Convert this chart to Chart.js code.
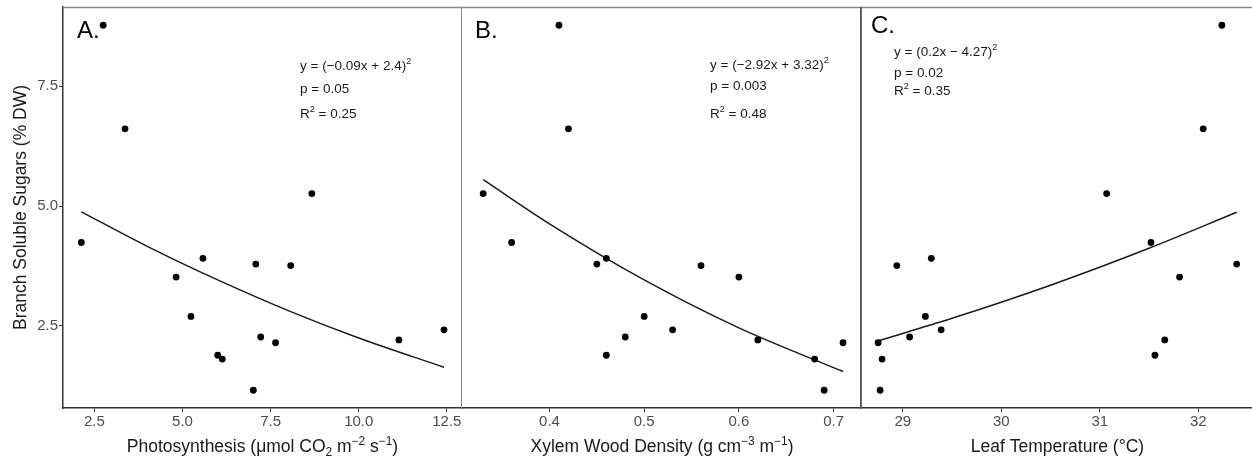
<!DOCTYPE html>
<html>
<head>
<meta charset="utf-8">
<script src="https://cdn.jsdelivr.net/npm/chart.js@4.4.1/dist/chart.umd.min.js"></script>
<style>
  body { margin: 0; background: #fff; width: 1252px; height: 457px; overflow: hidden; position: relative; }
  .box { position: absolute; top: 0; height: 457px; }
</style>
</head>
<body>
<div class="box" style="left:0;width:463px"><canvas id="chartA"></canvas></div>
<div class="box" style="left:462px;width:400px"><canvas id="chartB"></canvas></div>
<div class="box" style="left:860px;width:395px"><canvas id="chartC"></canvas></div>

<script>
// branch soluble sugars (% DW), same trees in each panel
const sugars = [8.77, 6.61, 5.26, 4.24, 3.91, 3.79, 3.76, 3.52, 2.70, 2.42, 2.27, 2.21, 2.15, 1.89, 1.81, 1.16];

// x values for each panel (same order as sugars)
const photosynthesis = [2.75, 3.37, 8.67, 2.13, 5.58, 7.08, 8.07, 4.82, 5.24, 12.42, 7.22, 11.14, 7.64, 6.00, 6.13, 7.01];
const woodDensity = [0.41, 0.42, 0.33, 0.36, 0.46, 0.45, 0.56, 0.60, 0.50, 0.53, 0.48, 0.62, 0.71, 0.46, 0.68, 0.69];
const leafTemp = [32.24, 32.05, 31.07, 31.52, 29.29, 32.39, 28.94, 31.81, 29.23, 29.39, 29.07, 31.66, 28.75, 31.56, 28.79, 28.77];

// fitted curves
const fitAx = [2.13, 4, 6, 8, 10, 12.42];
const fitAy = [4.88, 4.16, 3.46, 2.82, 2.25, 1.64];
const fitBx = [0.33, 0.4, 0.5, 0.6, 0.71];
const fitBy = [5.55, 4.63, 3.46, 2.46, 1.55];
const fitCx = [28.75, 29.5, 30.5, 31.5, 32.39];
const fitCy = [2.19, 2.66, 3.35, 4.12, 4.87];

// tick values
const sugarTicks = [2.5, 5, 7.5];
const ticksA = [2.5, 5, 7.5, 10, 12.5];
const ticksB = [0.4, 0.5, 0.6, 0.7];
const ticksC = [29, 30, 31, 32];

// text pieces: [text, shift]  shift 1 = superscript, -1 = subscript
const statsA = [[['y = (−0.09x + 2.4)', 0], ['2', 1]], [['p = 0.05', 0]], [['R', 0], ['2', 1], [' = 0.25', 0]]];
const statsB = [[['y = (−2.92x + 3.32)', 0], ['2', 1]], [['p = 0.003', 0]], [['R', 0], ['2', 1], [' = 0.48', 0]]];
const statsC = [[['y = (0.2x − 4.27)', 0], ['2', 1]], [['p = 0.02', 0]], [['R', 0], ['2', 1], [' = 0.35', 0]]];
const titleA = [['Photosynthesis (μmol CO', 0], ['2', -1], [' m', 0], ['−2', 1], [' s', 0], ['−1', 1], [')', 0]];
const titleB = [['Xylem Wood Density (g cm', 0], ['−3', 1], [' m', 0], ['−1', 1], [')', 0]];
const titleC = [['Leaf Temperature (°C)', 0]];
const yTitle = 'Branch Soluble Sugars (% DW)';

const FONT = '"Liberation Sans", Arial, sans-serif';

function richText(ctx, parts, x, y, size, align) {
    let total = 0;
    const widths = parts.map(p => {
        ctx.font = (p[1] ? size * 0.68 : size) + 'px ' + FONT;
        const w = ctx.measureText(p[0]).width;
        total += w;
        return w;
    });
    let cx = align === 'center' ? x - total / 2 : x;
    parts.forEach((p, i) => {
        ctx.font = (p[1] ? size * 0.68 : size) + 'px ' + FONT;
        let dy = 0;
        if (p[1] === 1) dy = -size * 0.42;
        if (p[1] === -1) dy = size * 0.22;
        ctx.fillText(p[0], cx, y + dy);
        cx += widths[i];
    });
}

// borders, panel letter, stats, axis titles
const decor = {
    id: 'decor',
    afterDraw(chart, args, opts) {
        const ctx = chart.ctx;
        const a = chart.chartArea;
        ctx.save();
        ctx.strokeStyle = '#8a8a8a';
        ctx.lineWidth = 1.5;
        ctx.beginPath();
        ctx.moveTo(a.left, a.top + 0.5);
        ctx.lineTo(a.right + 1, a.top + 0.5);
        ctx.stroke();
        ctx.lineWidth = 1;
        ctx.beginPath();
        ctx.moveTo(a.right - 0.5, a.top);
        ctx.lineTo(a.right - 0.5, a.bottom);
        ctx.stroke();
        if (opts.leftBorder) {
            ctx.strokeStyle = '#555';
            ctx.lineWidth = 1.5;
            ctx.beginPath();
            ctx.moveTo(a.left + 0.75, a.top);
            ctx.lineTo(a.left + 0.75, a.bottom);
            ctx.stroke();
        }

        ctx.fillStyle = '#000';
        ctx.textBaseline = 'alphabetic';
        ctx.textAlign = 'left';
        ctx.font = '24px ' + FONT;
        ctx.fillText(opts.letter, opts.letterX, opts.letterY);

        ctx.fillStyle = '#1a1a1a';
        opts.stats.forEach((line, i) => richText(ctx, line, opts.statsX, opts.statsY[i], 13.5, 'left'));

        richText(ctx, opts.title, (a.left + a.right) / 2, 452, 17.5, 'center');

        if (opts.yTitle) {
            ctx.save();
            ctx.translate(25.5, (a.top + a.bottom) / 2);
            ctx.rotate(-Math.PI / 2);
            ctx.textAlign = 'center';
            ctx.font = '17.5px ' + FONT;
            ctx.fillText(opts.yTitle, 0, 0);
            ctx.restore();
        }
        ctx.restore();
    }
};

function makePanel(id, xs, fitX, fitY, xMin, xMax, xTicks, digits, showY, padRight, decorOpts) {
    const points = xs.map((x, i) => ({ x: x, y: sugars[i] }));
    const fit = fitX.map((x, i) => ({ x: x, y: fitY[i] }));
    return new Chart(document.getElementById(id), {
        type: 'scatter',
        data: {
            datasets: [{
                data: points,
                pointRadius: 3.4,
                backgroundColor: '#000',
                borderWidth: 0
            }, {
                data: fit,
                showLine: true,
                pointRadius: 0,
                borderColor: '#1a1a1a',
                borderWidth: 1.5,
                cubicInterpolationMode: 'monotone',
                fill: false
            }]
        },
        options: {
            responsive: true,
            maintainAspectRatio: false,
            animation: false,
            layout: { autoPadding: false, padding: { top: 7, right: padRight, left: 0, bottom: 0 } },
            plugins: {
                legend: { display: false },
                tooltip: { enabled: false },
                decor: decorOpts
            },
            scales: {
                x: {
                    type: 'linear',
                    min: xMin,
                    max: xMax,
                    afterBuildTicks: s => { s.ticks = xTicks.map(v => ({ value: v })); },
                    afterFit: s => { s.height = 49; s.paddingLeft = 0; s.paddingRight = 0; },
                    grid: { display: true, drawOnChartArea: false, drawTicks: true, tickLength: 4, color: '#333' },
                    border: { display: true, color: '#333', width: 1.5 },
                    ticks: {
                        color: '#4d4d4d',
                        font: { size: 15, family: FONT },
                        padding: 1,
                        autoSkip: false,
                        maxRotation: 0,
                        callback: v => Number(v).toFixed(digits)
                    }
                },
                y: {
                    display: showY,
                    min: 0.79,
                    max: 9.15,
                    afterBuildTicks: s => { s.ticks = sugarTicks.map(v => ({ value: v })); },
                    afterFit: s => { s.width = showY ? 63 : 0; s.paddingTop = 0; s.paddingBottom = 0; },
                    grid: { display: true, drawOnChartArea: false, drawTicks: true, tickLength: 4, color: '#333' },
                    border: { display: true, color: '#333', width: 1.5 },
                    ticks: {
                        color: '#4d4d4d',
                        font: { size: 15, family: FONT },
                        padding: 1,
                        callback: v => Number(v).toFixed(1)
                    }
                }
            }
        },
        plugins: [decor]
    });
}

makePanel('chartA', photosynthesis, fitAx, fitAy, 1.61, 12.93, ticksA, 1, true, 1, {
    letter: 'A.', letterX: 77, letterY: 38,
    stats: statsA, statsX: 300, statsY: [70, 93, 118],
    title: titleA, yTitle: yTitle
});
makePanel('chartB', woodDensity, fitBx, fitBy, 0.3076, 0.73, ticksB, 1, false, 0, {
    letter: 'B.', letterX: 13, letterY: 38,
    stats: statsB, statsX: 248, statsY: [69, 90, 118],
    title: titleB
});
makePanel('chartC', leafTemp, fitCx, fitCy, 28.566, 32.576, ticksC, 0, false, 0, {
    letter: 'C.', letterX: 11, letterY: 33,
    stats: statsC, statsX: 34, statsY: [56, 77, 95],
    title: titleC, leftBorder: true
});
</script>
</body>
</html>
